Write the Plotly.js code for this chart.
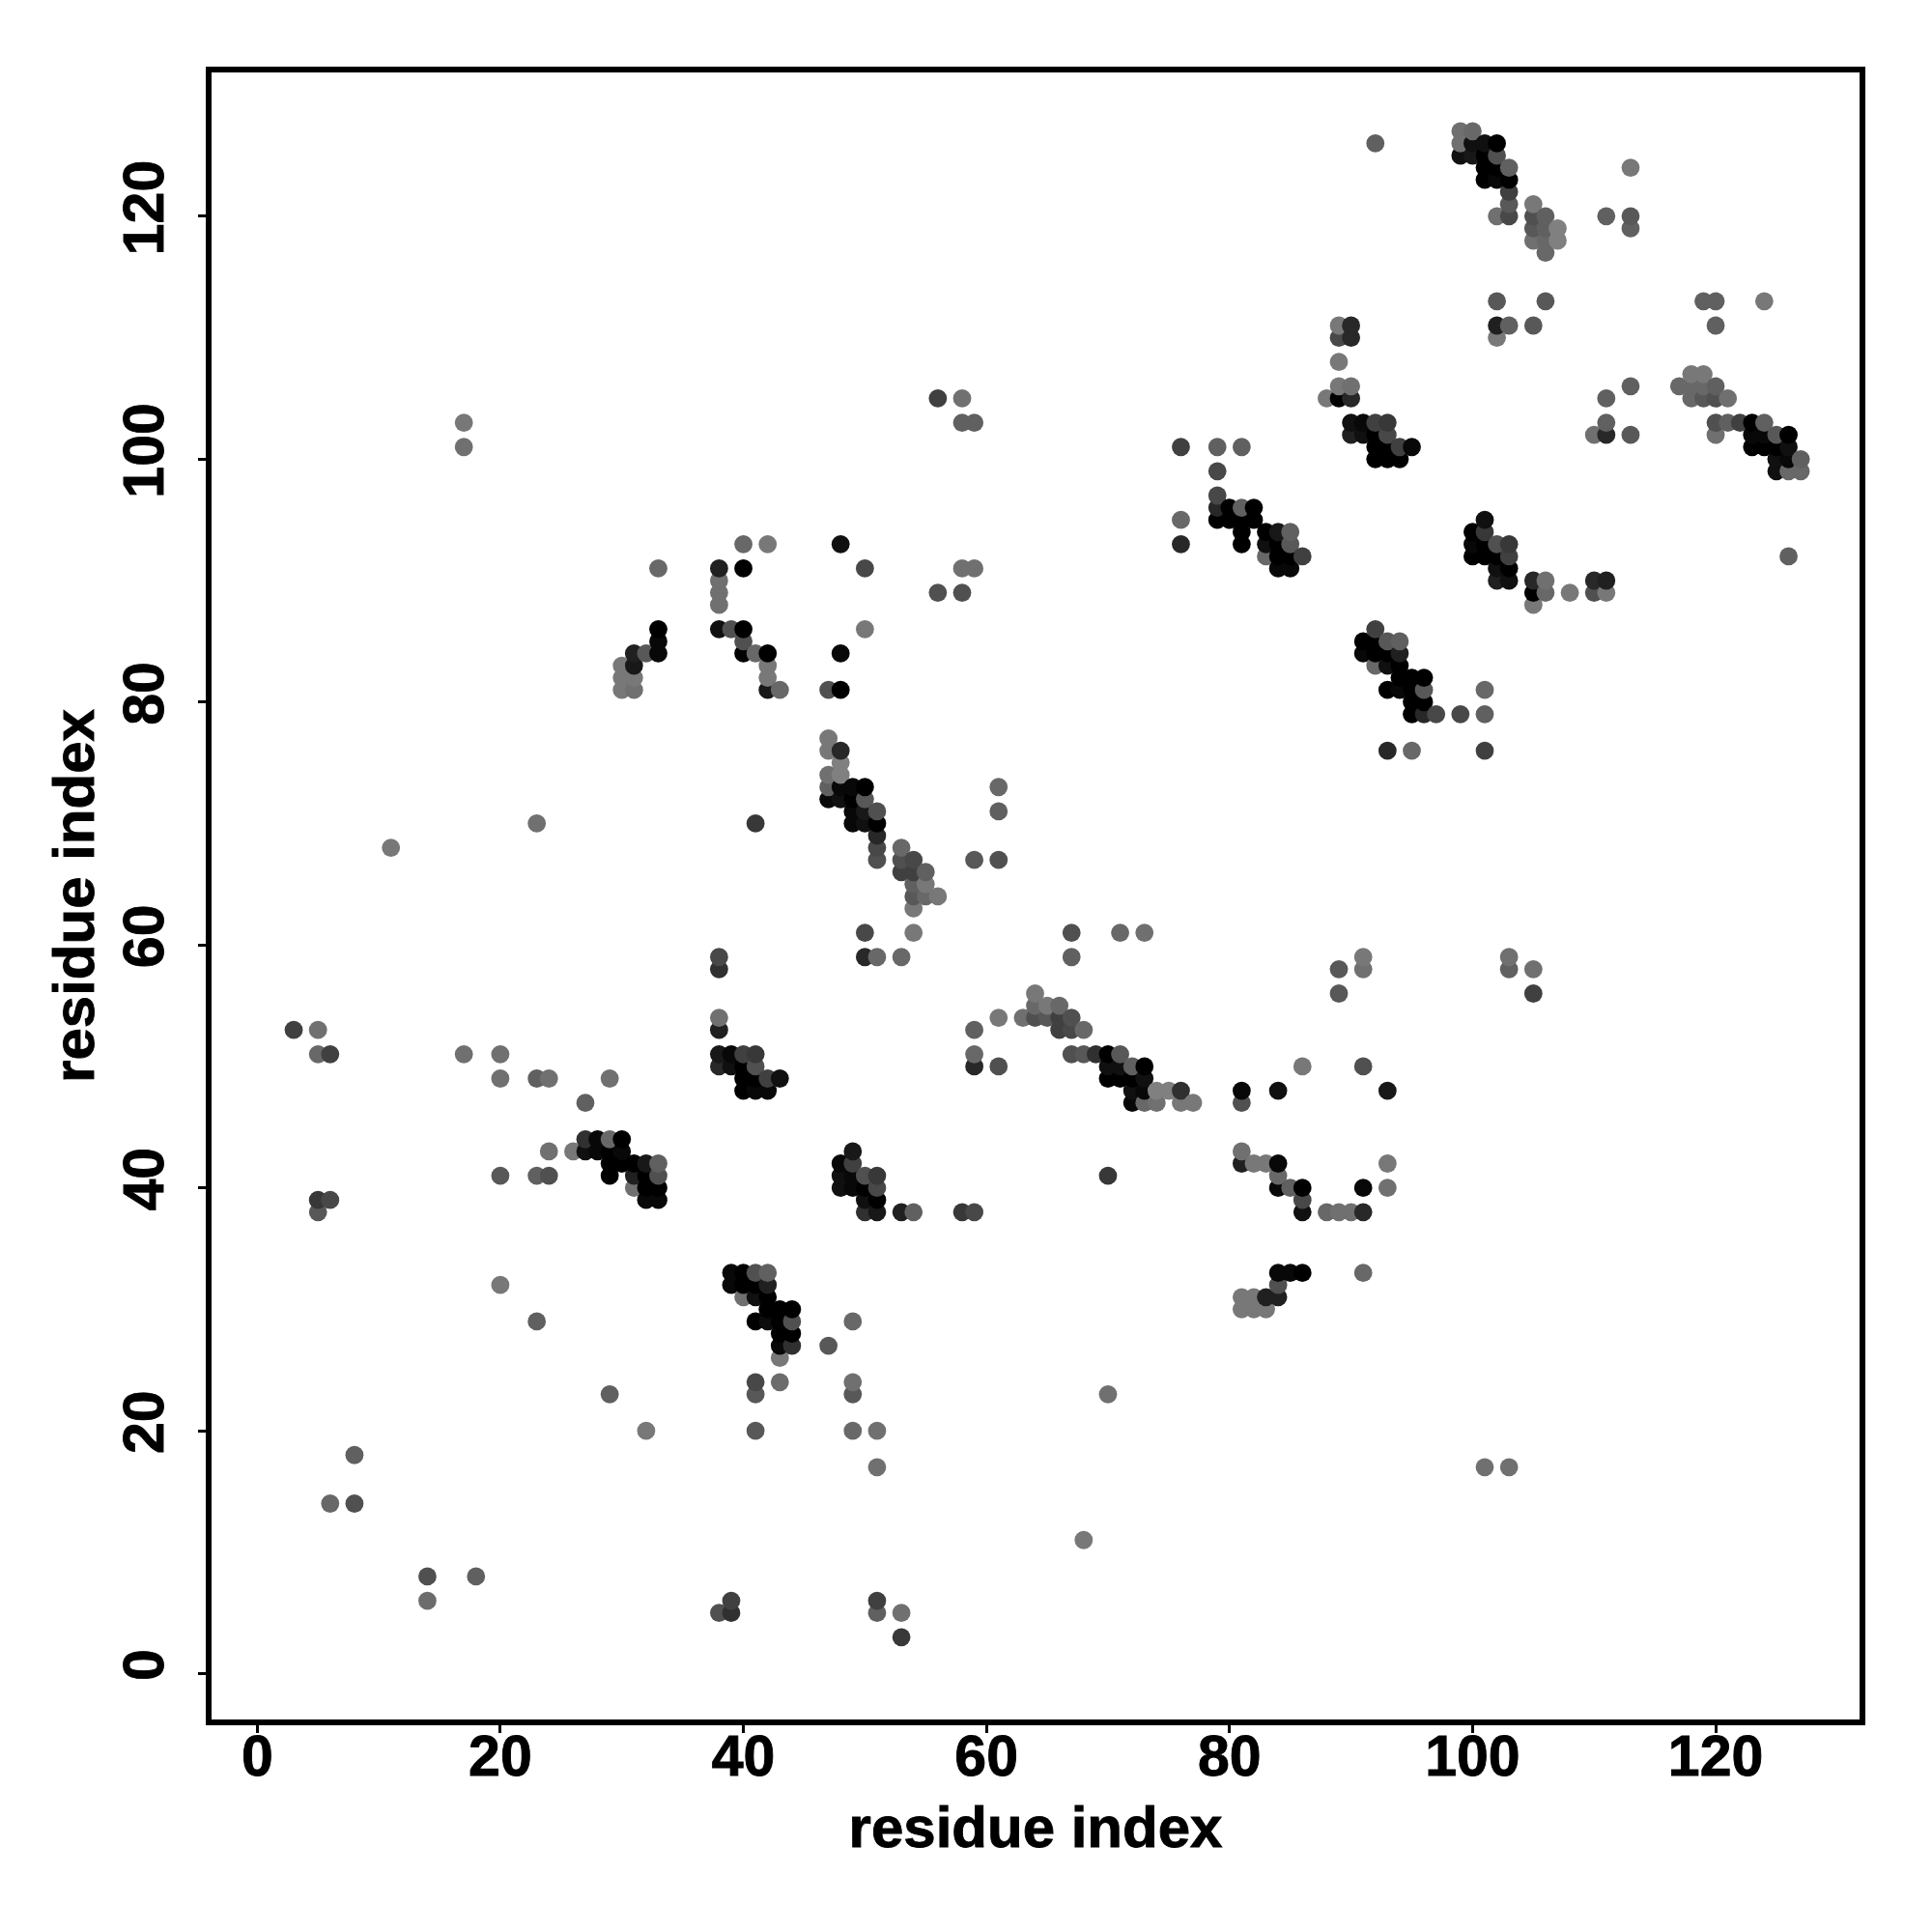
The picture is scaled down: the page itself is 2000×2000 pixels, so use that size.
<!DOCTYPE html>
<html>
<head>
<meta charset="utf-8">
<script src="https://cdn.plot.ly/plotly-3.0.1.min.js"></script>
<style>
html,body{margin:0;padding:0;background:#fff}
.xtick text,.ytick text,.g-xtitle text,.g-ytitle text{stroke:#000;stroke-width:0.9px}
</style>
</head>
<body>
<div id="chart" style="width:2000px;height:2000px"></div>
<script>
const xs = [
3, 5,5,5,5, 6,6,6, 8,8, 11, 14,14, 17,17,17, 18, 20,20,20,20, 23,23,23,23, 24,24,24, 26, 27,27,27, 28,28,
29,29,29,29,29,29, 30,30,30,30,30,30, 31,31,31,31,31,31,31, 32,32,32,32,32,32, 33,33,33,33,33,33,33,33,
38,38,38,38,38,38,38,38,38,38,38,38, 39,39,39,39,39,39,39, 40,40,40,40,40,40,40,40,40,40,40,40,
41,41,41,41,41,41,41,41,41,41,41,41,41, 42,42,42,42,42,42,42,42,42,42,42,42, 43,43,43,43,43,43,43,43, 44,44,44,44,
47,47,47,47,47,47,47, 48,48,48,48,48,48,48,48,48,48,48, 49,49,49,49,49,49,49,49,49,49,49,49,
50,50,50,50,50,50,50,50,50,50,50,50, 51,51,51,51,51,51,51,51,51,51,51,51,51,51, 53,53,53,53,53,53,53,
54,54,54,54,54,54,54, 55,55,55, 56,56,56, 58,58,58,58,58, 59,59,59,59,59,59,59, 61,61,61,61,61, 63,
64,64,64, 65,65, 66,66,66, 67,67,67,67,67, 68,68,68, 69, 70,70,70,70,70, 71,71,71,71, 72,72,72,72, 73,73,73,73,73,
74,74, 75, 76,76,76,76,76, 77, 79,79,79,79,79, 80,80, 81,81,81,81,81,81,81,81,81,81,81, 82,82,82,82,82, 83,83,83,83,83,83,
84,84,84,84,84,84,84,84,84,84,84, 85,85,85,85,85,85, 86,86,86,86,86,86, 88,88, 89,89,89,89,89,89,89,89, 90,90,90,90,90,90,90,
91,91,91,91,91,91,91,91,91,91, 92,92,92,92,92,92,92,92,92, 93,93,93,93,93,93,93,93,93,93,93,93, 94,94,94,94,94,94,94,
95,95,95,95,95,95, 96,96,96,96, 97, 99,99,99,99, 100,100,100,100,100,100, 101,101,101,101,101,101,101,101,101,101,101,101,
102,102,102,102,102,102,102,102,102,102,102,102, 103,103,103,103,103,103,103,103,103,103,103,103,103, 105,105,105,105,105,105,105,105,105,105,
106,106,106,106,106,106,106, 107,107, 108, 110,110,110, 111,111,111,111,111,111, 113,113,113,113,113, 117, 118,118,118,
119,119,119,119, 120,120,120,120,120,120, 121,121, 122, 123,123,123, 124,124,124,124, 125,125,125,125, 126,126,126,126,126, 127,127
];
const ys = [
53, 38,39,51,53, 14,39,51, 14,18, 68, 6,8, 51,101,103, 8, 32,41,49,51, 29,41,49,70, 41,43,49, 43, 43,44,47, 43,44,
23,41,42,43,44,49, 42,43,44,81,82,83, 40,41,42,81,82,83,84, 20,39,40,41,42,84, 39,40,41,42,84,85,86,91,
5,50,51,53,54,58,59,86,88,89,90,91, 5,6,32,33,50,51,86, 31,32,33,48,49,50,51,84,85,86,91,93,
20,23,24,29,31,32,33,48,49,50,51,70,84, 29,30,31,32,33,48,49,81,82,83,84,93, 24,26,27,28,29,30,49,81, 27,28,29,30,
27,72,73,74,76,77,81, 40,41,42,72,73,74,75,76,81,84,93, 20,23,24,29,40,41,42,43,70,71,72,73,
38,39,40,41,59,61,70,71,72,73,86,91, 5,6,17,20,38,39,40,41,59,67,68,69,70,71, 3,5,38,59,66,67,68,
38,61,63,64,65,66,67, 64,65,66, 64,89,105, 38,89,91,103,105, 38,50,51,53,67,91,103, 50,54,67,71,73, 54,
54,55,56, 54,55, 53,54,55, 51,53,54,59,61, 11,51,53, 51, 23,41,49,50,51, 49,50,51,61, 47,48,49,50, 47,48,49,50,61,
47,48, 48, 47,48,93,95,101, 47, 95,96,97,99,101, 95,96, 30,31,42,43,47,48,93,94,95,96,101, 30,31,42,95,96, 30,31,42,92,93,94,
31,32,33,40,41,42,48,91,92,93,94, 33,40,91,92,93,94, 33,38,39,40,50,92, 38,105, 38,56,58,105,106,108,110,111, 38,102,103,105,106,110,111,
33,38,40,50,58,59,84,85,102,103, 83,84,85,86,100,101,102,103,126, 40,42,48,76,81,83,84,85,100,101,102,103, 81,82,83,84,85,100,101,
76,79,80,81,82,101, 79,80,81,82, 79, 79,125,126,127, 92,93,94,125,126,127, 17,76,79,81,92,93,94,95,123,124,125,126,
90,91,92,93,110,111,113,120,123,124,125,126, 17,58,59,90,91,92,93,111,120,121,122,123,124, 56,58,88,89,90,111,118,119,120,121,
89,90,113,117,118,119,120, 118,119, 89, 89,90,102, 89,90,102,103,105,120, 102,106,119,120,124, 106, 105,106,107,
105,106,107,113, 102,103,105,106,111,113, 103,105, 103, 101,102,103, 101,102,103,113, 99,100,101,102, 92,99,100,101,102, 99,100
];
const greys = [
0x40, 0x58,0x38,0x68,0x70, 0x68,0x48,0x40, 0x50,0x60, 0x78, 0x6c,0x50, 0x70,0x70,0x78, 0x60, 0x78,0x58,0x70,0x70, 0x60,0x60,0x60,0x70, 0x50,0x70,0x70, 0x78, 0x10,0x30,0x60, 0x08,0x08,
0x60,0x00,0x00,0x00,0x68,0x70, 0x00,0x08,0x00,0x78,0x78,0x78, 0x70,0x20,0x00,0x70,0x78,0x18,0x20, 0x78,0x08,0x00,0x00,0x18,0x58, 0x08,0x00,0x50,0x60,0x08,0x08,0x00,0x68,
0x50,0x28,0x18,0x20,0x70,0x30,0x48,0x10,0x70,0x70,0x70,0x20, 0x30,0x40,0x08,0x08,0x10,0x08,0x50, 0x70,0x00,0x00,0x00,0x00,0x00,0x40,0x00,0x50,0x00,0x00,0x68,
0x58,0x58,0x48,0x00,0x10,0x00,0x50,0x08,0x00,0x50,0x38,0x38,0x68, 0x0c,0x00,0x00,0x20,0x60,0x08,0x40,0x18,0x78,0x78,0x00,0x78, 0x6c,0x78,0x08,0x00,0x00,0x00,0x10,0x68, 0x30,0x00,0x50,0x00,
0x58,0x08,0x60,0x70,0x78,0x78,0x50, 0x10,0x10,0x08,0x10,0x08,0x80,0x80,0x28,0x00,0x08,0x10, 0x68,0x58,0x70,0x68,0x08,0x08,0x40,0x18,0x08,0x08,0x00,0x08,
0x30,0x10,0x00,0x50,0x28,0x48,0x10,0x18,0x58,0x00,0x78,0x48, 0x60,0x40,0x70,0x70,0x18,0x00,0x48,0x38,0x68,0x50,0x48,0x28,0x00,0x50, 0x38,0x70,0x20,0x68,0x40,0x50,0x68,
0x60,0x78,0x78,0x58,0x60,0x40,0x48, 0x68,0x78,0x60, 0x78,0x50,0x40, 0x38,0x50,0x70,0x60,0x70, 0x48,0x28,0x68,0x60,0x58,0x70,0x60, 0x50,0x78,0x50,0x60,0x68, 0x70,
0x50,0x68,0x78, 0x58,0x78, 0x40,0x40,0x68, 0x50,0x48,0x50,0x60,0x50, 0x78,0x58,0x68, 0x30, 0x70,0x38,0x00,0x10,0x00, 0x00,0x10,0x58,0x68, 0x08,0x10,0x00,0x60, 0x68,0x08,0x10,0x00,0x70,
0x70,0x80, 0x80, 0x78,0x30,0x28,0x68,0x40, 0x78, 0x00,0x28,0x48,0x48,0x60, 0x00,0x00, 0x78,0x78,0x20,0x70,0x50,0x08,0x00,0x00,0x00,0x60,0x60, 0x78,0x78,0x78,0x00,0x00, 0x78,0x20,0x78,0x68,0x10,0x00,
0x20,0x50,0x08,0x08,0x68,0x08,0x10,0x08,0x00,0x00,0x18, 0x08,0x60,0x08,0x00,0x58,0x60, 0x00,0x10,0x48,0x00,0x78,0x40, 0x68,0x78, 0x70,0x58,0x58,0x00,0x78,0x78,0x48,0x78, 0x70,0x20,0x10,0x28,0x70,0x28,0x28,
0x68,0x28,0x08,0x50,0x70,0x78,0x08,0x00,0x10,0x08, 0x68,0x00,0x00,0x40,0x00,0x00,0x00,0x40,0x60, 0x70,0x78,0x18,0x28,0x00,0x10,0x00,0x58,0x00,0x00,0x48,0x38, 0x08,0x00,0x00,0x20,0x60,0x00,0x40,
0x68,0x00,0x00,0x00,0x00,0x08, 0x28,0x00,0x58,0x00, 0x48, 0x48,0x10,0x70,0x70, 0x00,0x08,0x00,0x18,0x10,0x68, 0x70,0x40,0x60,0x68,0x00,0x00,0x38,0x10,0x00,0x00,0x00,0x10,
0x20,0x10,0x00,0x50,0x78,0x20,0x58,0x70,0x08,0x00,0x50,0x00, 0x70,0x60,0x70,0x10,0x00,0x40,0x38,0x60,0x48,0x58,0x40,0x00,0x60, 0x40,0x70,0x78,0x00,0x28,0x58,0x70,0x58,0x50,0x78,
0x68,0x70,0x58,0x68,0x68,0x60,0x60, 0x80,0x80, 0x78, 0x50,0x28,0x70, 0x78,0x20,0x28,0x60,0x60,0x60, 0x58,0x60,0x60,0x58,0x78, 0x68, 0x68,0x68,0x78,
0x58,0x68,0x78,0x60, 0x70,0x50,0x50,0x60,0x60,0x60, 0x60,0x70, 0x40, 0x00,0x08,0x00, 0x00,0x08,0x60,0x78, 0x10,0x10,0x00,0x58, 0x60,0x68,0x08,0x10,0x00, 0x68,0x60
];
const tickValues = [0, 20, 40, 60, 80, 100, 120];
const axisLabel = "residue index";

const fontFamily = '"Liberation Sans", Arial, sans-serif';
const axisCommon = {
  tickmode: "array",
  tickvals: tickValues,
  ticktext: tickValues.map(String),
  ticks: "outside",
  ticklen: 8,
  tickwidth: 3,
  tickcolor: "#000",
  showline: true,
  mirror: true,
  linewidth: 6,
  linecolor: "#000",
  showgrid: false,
  zeroline: false,
  tickfont: {family: fontFamily, size: 59, color: "#000", weight: 700}
};
const trace = {
  type: "scatter",
  mode: "markers",
  x: xs,
  y: ys,
  hoverinfo: "x+y",
  marker: {
    size: 18.8,
    line: {width: 0},
    color: greys.map(g => `rgb(${g},${g},${g})`)
  }
};
const layout = {
  width: 2000,
  height: 2000,
  autosize: false,
  margin: {l: 219, r: 74.5, t: 74.5, b: 219.5, pad: 0},
  paper_bgcolor: "#fff",
  plot_bgcolor: "#fff",
  showlegend: false,
  font: {family: fontFamily, color: "#000"},
  xaxis: Object.assign({}, axisCommon, {
    range: [-3.76, 131.84],
    ticklabelstandoff: -27,
    title: {text: axisLabel, standoff: 22, font: {family: fontFamily, size: 60, color: "#000", weight: 700}}
  }),
  yaxis: Object.assign({}, axisCommon, {
    range: [-3.776, 131.84],
    tickangle: -90,
    ticklabelstandoff: 12,
    title: {text: axisLabel, standoff: 1, font: {family: fontFamily, size: 60, color: "#000", weight: 700}}
  })
};
if (xs.length !== ys.length || xs.length !== greys.length) throw new Error("len " + xs.length + " " + ys.length + " " + greys.length);
Plotly.newPlot("chart", [trace], layout, {displayModeBar: false, staticPlot: true});
</script>
</body>
</html>
